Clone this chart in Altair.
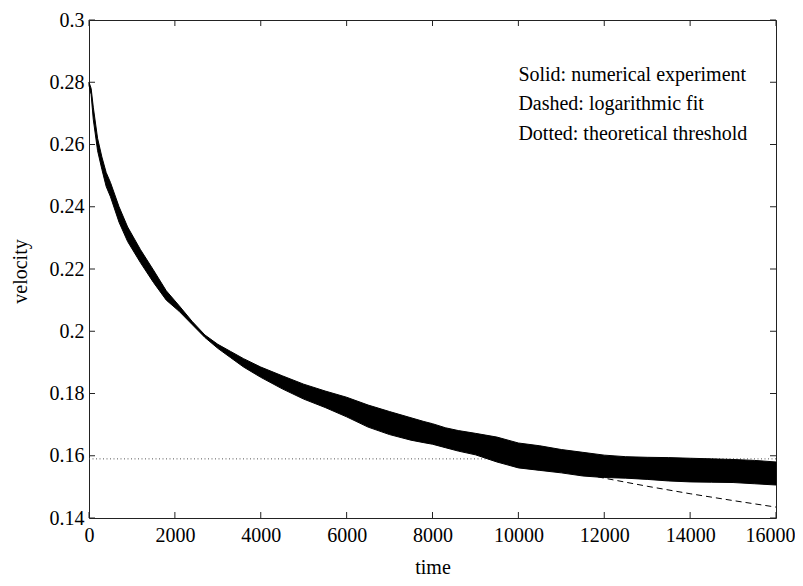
import altair as alt
import pandas as pd

# ---- data ----
# solid curve (numerical experiment): upper / lower envelope of the oscillation
t_vals = [0, 50, 100, 200, 300, 400, 500, 700, 900, 1200, 1500, 1800, 2100, 2400,
          2700, 3000, 3300, 3600, 4000, 4500, 5000, 5500, 6000, 6500, 7000, 7500,
          7800, 8000, 8300, 8600, 9000, 9500, 10000, 10500, 11000, 11500, 12000,
          12500, 13000, 13500, 14000, 14500, 15000, 15500, 16000]
v_upper = [0.2800, 0.2780, 0.2720, 0.2620, 0.2560, 0.2510, 0.2478, 0.2400, 0.2335,
           0.2262, 0.2197, 0.2130, 0.2082, 0.2032, 0.1988, 0.1958, 0.1935, 0.1912,
           0.1885, 0.1857, 0.1830, 0.1808, 0.1788, 0.1763, 0.1742, 0.1722, 0.1710,
           0.1703, 0.1690, 0.1681, 0.1672, 0.1660, 0.1641, 0.1632, 0.1620, 0.1611,
           0.1602, 0.1597, 0.1595, 0.1594, 0.1592, 0.1590, 0.1588, 0.1585, 0.1580]
v_lower = [0.2790, 0.2760, 0.2680, 0.2580, 0.2520, 0.2465, 0.2432, 0.2350, 0.2288,
           0.2220, 0.2157, 0.2100, 0.2064, 0.2022, 0.1980, 0.1945, 0.1915, 0.1885,
           0.1852, 0.1815, 0.1782, 0.1755, 0.1725, 0.1692, 0.1668, 0.1650, 0.1642,
           0.1637, 0.1626, 0.1615, 0.1603, 0.1580, 0.1561, 0.1553, 0.1545, 0.1535,
           0.1530, 0.1528, 0.1524, 0.1519, 0.1516, 0.1515, 0.1514, 0.1510, 0.1506]

# dashed logarithmic fit
fit_t = [8000, 9000, 10000, 11000, 12000, 13000, 14000, 15000, 16000]
fit_v = [0.1660, 0.1622, 0.1588, 0.1557, 0.1528, 0.1502, 0.1478, 0.1456, 0.1435]

# dotted theoretical threshold
thr_t = [0, 16000]
thr_v = [0.159, 0.159]

# annotation text
note_text = ["Solid: numerical experiment", "Dashed: logarithmic fit",
             "Dotted: theoretical threshold"]
note_t = [10000, 10000, 10000]
note_v = [0.2804, 0.2711, 0.2614]

x_ticks = [0, 2000, 4000, 6000, 8000, 10000, 12000, 14000, 16000]
y_ticks = [0.14, 0.16, 0.18, 0.2, 0.22, 0.24, 0.26, 0.28, 0.3]

W, H = 687, 498
FONT = "Liberation Serif"
FS = 20
TICK_LEN = 6

solid_df = pd.DataFrame({"t": t_vals, "hi": v_upper, "lo": v_lower})
fit_df = pd.DataFrame({"t": fit_t, "v": fit_v})
thr_df = pd.DataFrame({"t": thr_t, "v": thr_v})
note_df = pd.DataFrame({"t": note_t, "v": note_v, "txt": note_text})
xt_df = pd.DataFrame({"t": x_ticks})
yt_df = pd.DataFrame({"v": y_ticks})

xscale = alt.Scale(domain=[0, 16000], nice=False, zero=False)
yscale = alt.Scale(domain=[0.14, 0.3], nice=False, zero=False)

axis_style = dict(ticks=False, domain=False, grid=False, labelFlush=False,
                  labelFont=FONT, labelFontSize=FS, labelColor="black",
                  titleFont=FONT, titleFontSize=FS, titleFontWeight="normal",
                  titleColor="black", titleBaseline="alphabetic")

xaxis = alt.Axis(values=x_ticks, format="d", labelPadding=7, title="time",
                 titleY=55,
                 labelOffset={"condition": {"test": "datum.value == 16000", "value": -6},
                              "value": 0},
                 **axis_style)
yaxis = alt.Axis(values=y_ticks, format="~g", labelPadding=5, title="velocity",
                 titleX=-63, titleY=251, **axis_style)

base_thr = alt.Chart(thr_df).mark_line(color="#555555", strokeWidth=1,
                                       strokeDash=[1, 2.5]).encode(
    x=alt.X("t:Q", scale=xscale, axis=xaxis),
    y=alt.Y("v:Q", scale=yscale, axis=yaxis),
)

fit = alt.Chart(fit_df).mark_line(color="black", strokeWidth=1,
                                  strokeDash=[6, 4]).encode(
    x=alt.X("t:Q", scale=xscale),
    y=alt.Y("v:Q", scale=yscale),
)

band = alt.Chart(solid_df).mark_area(color="black", stroke="black",
                                     strokeWidth=1, opacity=1).encode(
    x=alt.X("t:Q", scale=xscale),
    y=alt.Y("hi:Q", scale=yscale),
    y2="lo:Q",
)

notes = alt.Chart(note_df).mark_text(font=FONT, fontSize=FS, align="left",
                                     baseline="alphabetic", color="black").encode(
    x=alt.X("t:Q", scale=xscale),
    y=alt.Y("v:Q", scale=yscale),
    text="txt:N",
)

tick_color = "#222222"
bot_ticks = alt.Chart(xt_df).mark_rule(color=tick_color, strokeWidth=1).encode(
    x=alt.X("t:Q", scale=xscale), y=alt.value(H), y2=alt.value(H - TICK_LEN))
top_ticks = alt.Chart(xt_df).mark_rule(color=tick_color, strokeWidth=1).encode(
    x=alt.X("t:Q", scale=xscale), y=alt.value(0), y2=alt.value(TICK_LEN))
left_ticks = alt.Chart(yt_df).mark_rule(color=tick_color, strokeWidth=1).encode(
    y=alt.Y("v:Q", scale=yscale), x=alt.value(0), x2=alt.value(TICK_LEN))
right_ticks = alt.Chart(yt_df).mark_rule(color=tick_color, strokeWidth=1).encode(
    y=alt.Y("v:Q", scale=yscale), x=alt.value(W), x2=alt.value(W - TICK_LEN))

chart = alt.layer(
    base_thr, fit, band, notes, bot_ticks, top_ticks, left_ticks, right_ticks
).properties(
    width=W, height=H,
    padding={"left": 81, "top": 12, "right": 19, "bottom": 60},
    autosize="none",
).configure(
    background="white", font=FONT
).configure_view(
    stroke="#222222", strokeWidth=1, fill="white"
)

chart.save("out.html", embed_options={"renderer": "svg", "actions": False})
